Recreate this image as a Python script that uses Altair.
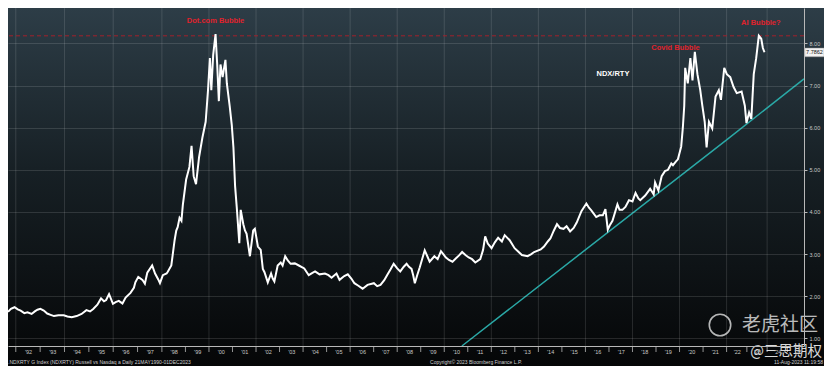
import altair as alt
import pandas as pd

# ---------------- data ----------------
years = [1991.68, 1991.80, 1991.95, 1992.08, 1992.20, 1992.35, 1992.48, 1992.65, 1992.78, 1992.89,
         1993.01, 1993.15, 1993.29, 1993.43, 1993.57, 1993.75, 1993.97, 1994.12, 1994.30, 1994.50,
         1994.70, 1994.90, 1995.05, 1995.18, 1995.35, 1995.50, 1995.62, 1995.71, 1995.83, 1995.99,
         1996.10, 1996.23, 1996.38, 1996.51, 1996.71, 1996.85, 1996.91, 1997.03, 1997.20, 1997.30,
         1997.40, 1997.60, 1997.72, 1997.85, 1997.92, 1998.04, 1998.20, 1998.25, 1998.40, 1998.47,
         1998.54, 1998.61, 1998.67, 1998.75, 1998.83, 1998.89, 1999.03, 1999.17, 1999.26, 1999.35,
         1999.45, 1999.58, 1999.72, 1999.86, 1999.96, 2000.04, 2000.10, 2000.18, 2000.28, 2000.35,
         2000.42, 2000.49, 2000.58, 2000.70, 2000.76, 2000.88, 2000.97, 2001.04, 2001.11, 2001.18,
         2001.29, 2001.35, 2001.46, 2001.53, 2001.60, 2001.74, 2001.88, 2001.95, 2002.08, 2002.20,
         2002.29, 2002.36, 2002.50, 2002.64, 2002.71, 2002.78, 2002.92, 2003.05, 2003.13, 2003.24,
         2003.35, 2003.47, 2003.65, 2003.82, 2004.05, 2004.24, 2004.38, 2004.51, 2004.70, 2004.93,
         2005.08, 2005.21, 2005.42, 2005.55, 2005.75, 2005.90, 2006.05, 2006.18, 2006.35, 2006.53,
         2006.74, 2007.01, 2007.15, 2007.29, 2007.45, 2007.57, 2007.72, 2007.85, 2008.00, 2008.13,
         2008.28, 2008.40, 2008.50, 2008.61, 2008.68, 2008.75, 2008.85, 2008.96, 2009.17, 2009.28,
         2009.38, 2009.58, 2009.72, 2009.86, 2010.07, 2010.20, 2010.35, 2010.50, 2010.63, 2010.76,
         2010.90, 2011.04, 2011.18, 2011.32, 2011.53, 2011.65, 2011.74, 2011.85, 2012.01, 2012.15,
         2012.29, 2012.45, 2012.57, 2012.78, 2012.99, 2013.13, 2013.30, 2013.54, 2013.70, 2013.82,
         2014.10, 2014.24, 2014.40, 2014.51, 2014.65, 2014.79, 2014.92, 2015.07, 2015.20, 2015.35,
         2015.50, 2015.63, 2015.83, 2016.04, 2016.15, 2016.25, 2016.46, 2016.60, 2016.74, 2016.85,
         2016.95, 2017.05, 2017.15, 2017.36, 2017.45, 2017.57, 2017.70, 2017.85, 2018.00, 2018.13,
         2018.25, 2018.33, 2018.54, 2018.75, 2018.90, 2018.96, 2019.10, 2019.24, 2019.38, 2019.51,
         2019.65, 2019.72, 2019.85, 2019.93, 2020.07, 2020.14, 2020.20, 2020.24, 2020.35, 2020.46,
         2020.55, 2020.65, 2020.76, 2020.88, 2020.97, 2021.07, 2021.15, 2021.25, 2021.39, 2021.53,
         2021.67, 2021.76, 2021.90, 2022.01, 2022.18, 2022.34, 2022.50, 2022.74, 2022.90, 2022.98,
         2023.11, 2023.22, 2023.34, 2023.46, 2023.59, 2023.71, 2023.79, 2023.87]
ratio = [1.63, 1.70, 1.74, 1.69, 1.66, 1.60, 1.62, 1.58, 1.64, 1.68,
         1.70, 1.66, 1.59, 1.56, 1.53, 1.55, 1.55, 1.52, 1.50, 1.53,
         1.58, 1.67, 1.64, 1.70, 1.80, 1.95, 1.88, 1.91, 2.05, 1.82,
         1.86, 1.89, 1.83, 1.97, 2.08, 2.20, 2.33, 2.46, 2.39, 2.30,
         2.56, 2.73, 2.54, 2.40, 2.31, 2.50, 2.54, 2.58, 2.73, 3.03,
         3.33, 3.56, 3.64, 3.86, 3.79, 4.17, 4.77, 5.07, 5.57, 4.85,
         4.66, 5.30, 5.76, 6.14, 6.89, 7.65, 6.89, 7.73, 8.22, 7.50,
         6.63, 7.50, 7.20, 7.61, 7.05, 6.52, 6.06, 5.53, 4.62, 4.12,
         3.26, 4.05, 3.71, 3.56, 3.48, 2.95, 3.56, 3.60, 3.18, 3.10,
         2.65, 2.57, 2.33, 2.54, 2.42, 2.35, 2.73, 2.80, 2.73, 2.95,
         2.85, 2.77, 2.78, 2.73, 2.66, 2.50, 2.55, 2.59, 2.52, 2.54,
         2.50, 2.44, 2.54, 2.39, 2.48, 2.52, 2.42, 2.31, 2.25, 2.18,
         2.27, 2.31, 2.24, 2.27, 2.38, 2.50, 2.64, 2.77, 2.66, 2.59,
         2.70, 2.77, 2.70, 2.65, 2.50, 2.31, 2.50, 2.69, 3.09, 2.95,
         2.82, 2.95, 2.88, 3.07, 2.92, 2.86, 2.82, 2.90, 2.97, 3.05,
         2.98, 2.92, 2.88, 2.80, 2.88, 3.10, 3.42, 3.25, 3.14, 3.28,
         3.39, 3.30, 3.45, 3.33, 3.14, 3.07, 2.98, 2.95, 3.00, 3.05,
         3.11, 3.18, 3.30, 3.37, 3.55, 3.71, 3.62, 3.60, 3.66, 3.54,
         3.62, 3.75, 4.02, 4.20, 4.10, 4.04, 3.88, 3.92, 3.92, 4.07,
         3.58, 3.70, 3.79, 4.18, 4.05, 4.05, 4.12, 4.28, 4.25, 4.45,
         4.32, 4.28, 4.39, 4.55, 4.42, 4.70, 4.51, 4.85, 4.97, 5.00,
         5.15, 5.11, 5.20, 5.25, 5.55, 6.00, 6.52, 7.42, 7.05, 7.65,
         7.12, 7.80, 7.27, 6.89, 6.52, 6.14, 5.53, 6.14, 5.98, 6.74,
         6.89, 6.66, 7.42, 7.27, 7.20, 6.97, 6.82, 6.86, 6.52, 6.11,
         6.36, 6.21, 7.27, 7.65, 8.18, 8.11, 7.89, 7.79]

trend_years = [2010.75, 2022.0, 2025.82]
trend_vals = [0.82, 5.71, 7.16]

bubble_labels = ["Dot.com Bubble", "Covid Bubble", "AI Bubble?"]
bubble_x = [2000.28, 2019.83, 2023.69]
bubble_y = [8.52, 7.89, 8.48]
bubble_level = [8.18]

series_name = ["NDX/RTY"]
series_name_x = [2017.17]
series_name_y = [7.27]

last_value = [7.7862]
last_label = ["7.7862"]

grid_years = list(range(1992, 2025, 2))
tick_years = list(range(1992, 2026))
label_years = [y + 0.5 for y in range(1992, 2026)]
y_ticks = [1, 2, 3, 4, 5, 6, 7, 8]

footer_left = ".NDXRTY G Index (NDXRTY) Russell vs Nasdaq a  Daily 21MAY1990-01DEC2023"
footer_mid = "Copyright\u00a9 2023 Bloomberg Finance L.P."
footer_right = "11-Aug-2023 11:19:58"
wm_big = "老虎社区"
wm_small = "@三思期权"

# ---------------- layout ----------------
W, H = 796, 338
PR, PB = 20, 20
FONT = "Liberation Sans"

xscale = alt.Scale(domain=[1991.68, 1998, 2022, 2025.82], range=[0, 153.9, 718.6, W],
                   nice=False, zero=False)
yscale = alt.Scale(domain=[0.82, 8.84], nice=False, zero=False)

XAX = alt.Axis(values=label_years, title=None, grid=False, tickSize=0,
               labelExpr="\"'\" + substring(toString(floor(datum.value)), 2, 4)",
               labelFontSize=5.5, labelColor="#c8c8c8", labelFont=FONT,
               labelPadding=3, domainColor="#b8b8b8", domainWidth=1,
               labelFlush=False, labelOverlap=False, zindex=1)
YAX = alt.Axis(orient="right", values=y_ticks, format=".2f", title=None,
               grid=True, gridColor="#ffffff", gridOpacity=0.16, gridWidth=0.8,
               tickSize=3, tickColor="#b8b8b8", domainColor="#b8b8b8",
               labelFontSize=5.5, labelColor="#c8c8c8", labelFont=FONT,
               labelPadding=2, zindex=1)

series_df = pd.DataFrame({"year": years, "ratio": ratio})
trend_df = pd.DataFrame({"year": trend_years, "ratio": trend_vals})
bubble_df = pd.DataFrame({"label": bubble_labels, "year": bubble_x, "ratio": bubble_y})
name_df = pd.DataFrame({"label": series_name, "year": series_name_x, "ratio": series_name_y})
level_df = pd.DataFrame({"ratio": bubble_level})
grid_df = pd.DataFrame({"year": grid_years})
tick_df = pd.DataFrame({"year": tick_years})
last_df = pd.DataFrame({"ratio": last_value, "label": last_label})
one = pd.DataFrame({"k": [0]})

X = alt.X("year:Q", scale=xscale, axis=XAX)
Y = alt.Y("ratio:Q", scale=yscale, axis=YAX)

bg = alt.Chart(one).mark_rect(
    fill=alt.Gradient(
        gradient="linear",
        stops=[alt.GradientStop(color="#2d3d47", offset=0),
               alt.GradientStop(color="#172025", offset=0.45),
               alt.GradientStop(color="#050607", offset=1)],
        x1=0, x2=0, y1=0, y2=1),
).encode(x=alt.value(0), x2=alt.value(W + PR), y=alt.value(0), y2=alt.value(H + PB))

vgrid = alt.Chart(grid_df).mark_rule(color="#ffffff", opacity=0.16, strokeWidth=0.8).encode(x=X)

xticks = alt.Chart(tick_df).mark_rule(color="#b8b8b8", strokeWidth=0.8).encode(
    x=X, y=alt.value(H), y2=alt.value(H + 6))

trend = alt.Chart(trend_df).mark_line(color="#2aa8a6", strokeWidth=1.5).encode(x=X, y=Y)

level = alt.Chart(level_df).mark_rule(color="#a3202c", strokeWidth=1, strokeDash=[4, 3]).encode(y=Y)

series = alt.Chart(series_df).mark_line(color="#ffffff", strokeWidth=2.0).encode(x=X, y=Y)

bubbles = alt.Chart(bubble_df).mark_text(
    color="#e0222c", fontWeight="bold", fontSize=7.5, font=FONT, align="center", baseline="middle"
).encode(x=X, y=Y, text="label:N")

name = alt.Chart(name_df).mark_text(
    color="#ffffff", fontWeight="bold", fontSize=7.5, font=FONT, align="center", baseline="middle"
).encode(x=X, y=Y, text="label:N")

last_box = alt.Chart(last_df).mark_point(
    shape="M-1,-0.45L1,-0.45L1,0.45L-1,0.45Z", size=380, filled=True, fill="#f2f2f2",
    stroke="#888888", strokeWidth=0.5, opacity=1
).encode(x=alt.value(W + 10.5), y=Y)

last_txt = alt.Chart(last_df).mark_text(
    color="#111111", fontSize=5.5, font=FONT, align="center", baseline="middle"
).encode(x=alt.value(W + 10.5), y=Y, text="label:N")

f_left = alt.Chart(one).mark_text(color="#d0d0d0", fontSize=5, font=FONT, align="left",
                                  baseline="middle", text=footer_left).encode(
    x=alt.value(0), y=alt.value(H + 16))
f_mid = alt.Chart(one).mark_text(color="#d0d0d0", fontSize=5, font=FONT, align="center",
                                 baseline="middle", text=footer_mid).encode(
    x=alt.value(468), y=alt.value(H + 16))
f_right = alt.Chart(one).mark_text(color="#d0d0d0", fontSize=5, font=FONT, align="right",
                                   baseline="middle", text=footer_right).encode(
    x=alt.value(W + PR - 1), y=alt.value(H + 16))

wm1 = alt.Chart(one).mark_text(color="#ffffff", opacity=0.72, fontSize=19,
                               font="Noto Sans CJK SC", align="left", baseline="middle",
                               text=wm_big).encode(x=alt.value(734), y=alt.value(317))
wm2 = alt.Chart(one).mark_text(color="#ffffff", opacity=0.85, fontSize=14.5,
                               font="Noto Sans CJK SC", align="right", baseline="middle",
                               text=wm_small).encode(x=alt.value(W + PR - 2), y=alt.value(344))
wm_logo = alt.Chart(one).mark_point(shape="circle", size=460, filled=False, stroke="#ffffff",
                                    strokeWidth=1.6, opacity=0.7).encode(
    x=alt.value(712), y=alt.value(317))

chart = alt.layer(
    bg, vgrid, xticks, trend, level, series, bubbles, name, last_box, last_txt,
    f_left, f_mid, f_right, wm_logo, wm1, wm2
).properties(
    width=W, height=H,
    autosize=alt.AutoSizeParams(type="none"),
    padding={"left": 0, "top": 0, "right": PR, "bottom": PB},
    background="#0b0f12",
).configure_view(stroke=None)

chart.save("out.html", embed_options={"renderer": "svg", "actions": False})
